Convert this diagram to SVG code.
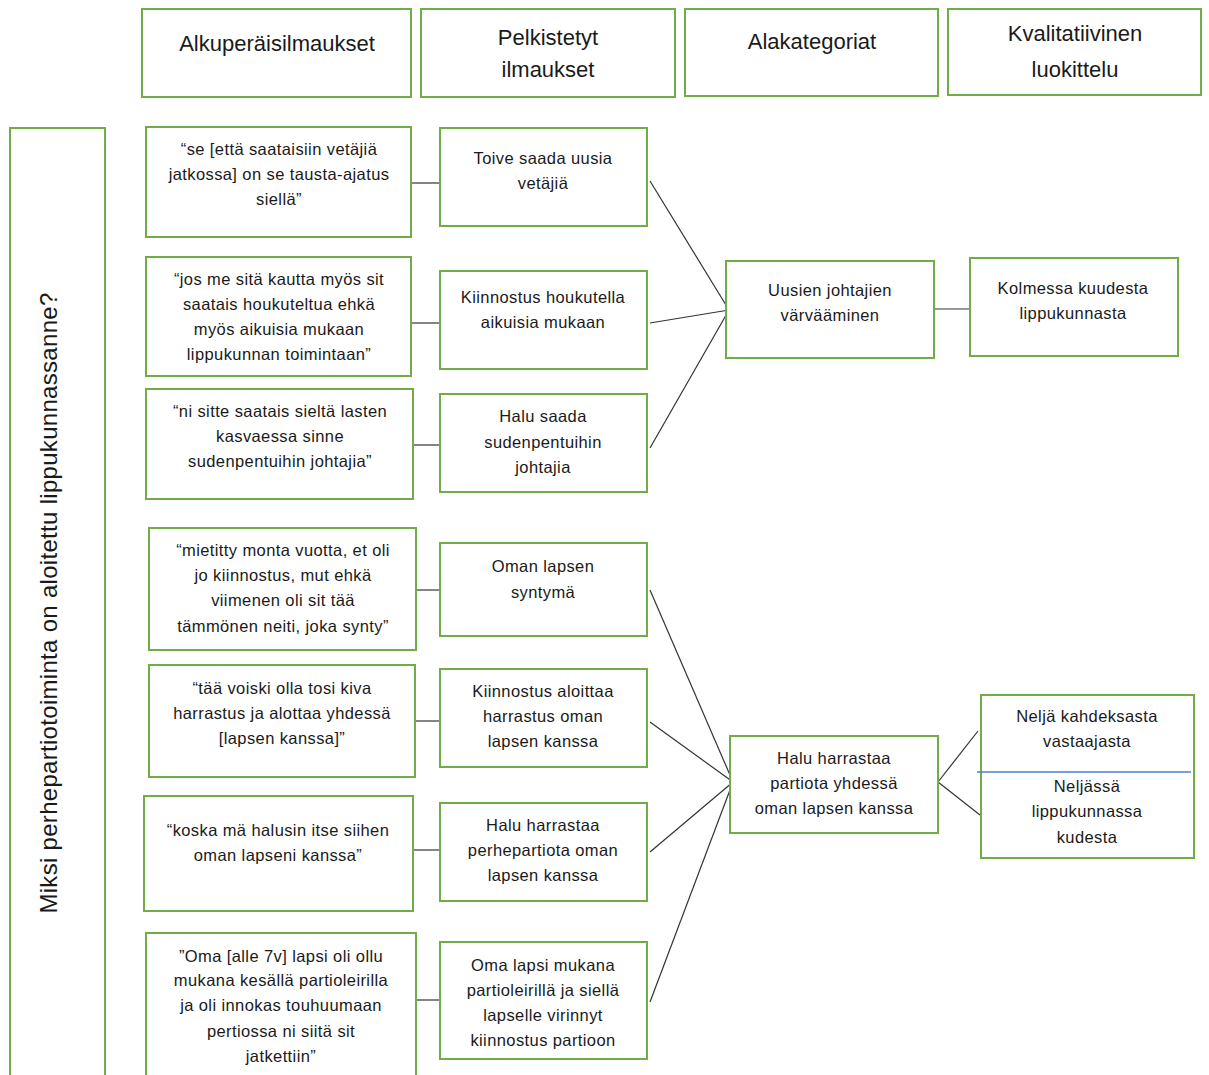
<svg xmlns="http://www.w3.org/2000/svg" width="1209" height="1075" viewBox="0 0 1209 1075">
<style>
.b{fill:#fff;stroke:#70AD47;stroke-width:2}
text{font-family:"Liberation Sans",Arial,sans-serif;fill:#1a1a1a;text-anchor:middle}
.h{font-size:22px}
.t{font-size:16.5px;letter-spacing:0.4px}
.c line{stroke:#333;stroke-width:1.2}
</style>
<rect width="1209" height="1075" fill="#fff"/>
<g id="h1"><rect class="b" x="142" y="9" width="269" height="88"/><text class="h" x="277" y="51">Alkuperäisilmaukset</text></g>
<g id="h2"><rect class="b" x="421" y="9" width="254" height="88"/><text class="h" x="548" y="45">Pelkistetyt</text><text class="h" x="548" y="77">ilmaukset</text></g>
<g id="h3"><rect class="b" x="685" y="9" width="253" height="87"/><text class="h" x="812" y="49">Alakategoriat</text></g>
<g id="h4"><rect class="b" x="948" y="9" width="253" height="86"/><text class="h" x="1075" y="41">Kvalitatiivinen</text><text class="h" x="1075" y="77">luokittelu</text></g>
<g id="question"><rect class="b" x="10" y="128" width="95" height="960"/><text x="0" y="0" font-size="24" letter-spacing="0.3" transform="translate(57,603) rotate(-90)">Miksi perhepartiotoiminta on aloitettu lippukunnassanne?</text></g>
<g class="c" id="connectors">
<line x1="411" y1="183" x2="440" y2="183"/>
<line x1="411" y1="323" x2="440" y2="323"/>
<line x1="413" y1="445" x2="440" y2="445"/>
<line x1="416" y1="590" x2="440" y2="590"/>
<line x1="415" y1="721" x2="440" y2="721"/>
<line x1="413" y1="850" x2="440" y2="850"/>
<line x1="416" y1="1000" x2="440" y2="1000"/>
<line x1="650" y1="181" x2="729" y2="310"/>
<line x1="650" y1="323" x2="729" y2="310"/>
<line x1="650" y1="448" x2="729" y2="310"/>
<line x1="934" y1="309" x2="970" y2="309"/>
<line x1="650" y1="590" x2="733" y2="782"/>
<line x1="650" y1="722" x2="733" y2="782"/>
<line x1="650" y1="852" x2="733" y2="782"/>
<line x1="650" y1="1002" x2="733" y2="782"/>
<line x1="938" y1="782" x2="978" y2="731"/>
<line x1="938" y1="782" x2="980" y2="815"/>
</g>
<g id="q1"><rect class="b" x="146" y="127" width="265" height="110"/><text class="t" x="279" y="155">“se [että saataisiin vetäjiä</text><text class="t" x="279" y="180">jatkossa] on se tausta-ajatus</text><text class="t" x="279" y="205">siellä”</text></g>
<g id="q2"><rect class="b" x="146" y="257" width="265" height="119"/><text class="t" x="279" y="285">“jos me sitä kautta myös sit</text><text class="t" x="279" y="310">saatais houkuteltua ehkä</text><text class="t" x="279" y="335">myös aikuisia mukaan</text><text class="t" x="279" y="360">lippukunnan toimintaan”</text></g>
<g id="q3"><rect class="b" x="146" y="389" width="267" height="110"/><text class="t" x="280" y="417">“ni sitte saatais sieltä lasten</text><text class="t" x="280" y="442">kasvaessa sinne</text><text class="t" x="280" y="467">sudenpentuihin johtajia”</text></g>
<g id="q4"><rect class="b" x="149" y="528" width="267" height="122"/><text class="t" x="283" y="556">“mietitty monta vuotta, et oli</text><text class="t" x="283" y="581">jo kiinnostus, mut ehkä</text><text class="t" x="283" y="606">viimenen oli sit tää</text><text class="t" x="283" y="632">tämmönen neiti, joka synty”</text></g>
<g id="q5"><rect class="b" x="149" y="665" width="266" height="112"/><text class="t" x="282" y="694">“tää voiski olla tosi kiva</text><text class="t" x="282" y="719">harrastus ja alottaa yhdessä</text><text class="t" x="282" y="744">[lapsen kanssa]”</text></g>
<g id="q6"><rect class="b" x="144" y="796" width="269" height="115"/><text class="t" x="278" y="836">“koska mä halusin itse siihen</text><text class="t" x="278" y="861">oman lapseni kanssa”</text></g>
<g id="q7"><rect class="b" x="146" y="933" width="270" height="160"/><text class="t" x="281" y="962">”Oma [alle 7v] lapsi oli ollu</text><text class="t" x="281" y="986">mukana kesällä partioleirilla</text><text class="t" x="281" y="1011">ja oli innokas touhuumaan</text><text class="t" x="281" y="1037">pertiossa ni siitä sit</text><text class="t" x="281" y="1062">jatkettiin”</text></g>
<g id="s1"><rect class="b" x="440" y="128" width="207" height="98"/><text class="t" x="543" y="164">Toive saada uusia</text><text class="t" x="543" y="189">vetäjiä</text></g>
<g id="s2"><rect class="b" x="440" y="271" width="207" height="98"/><text class="t" x="543" y="303">Kiinnostus houkutella</text><text class="t" x="543" y="328">aikuisia mukaan</text></g>
<g id="s3"><rect class="b" x="440" y="394" width="207" height="98"/><text class="t" x="543" y="422">Halu saada</text><text class="t" x="543" y="448">sudenpentuihin</text><text class="t" x="543" y="473">johtajia</text></g>
<g id="s4"><rect class="b" x="440" y="543" width="207" height="93"/><text class="t" x="543" y="572">Oman lapsen</text><text class="t" x="543" y="598">syntymä</text></g>
<g id="s5"><rect class="b" x="440" y="669" width="207" height="98"/><text class="t" x="543" y="697">Kiinnostus aloittaa</text><text class="t" x="543" y="722">harrastus oman</text><text class="t" x="543" y="747">lapsen kanssa</text></g>
<g id="s6"><rect class="b" x="440" y="803" width="207" height="98"/><text class="t" x="543" y="831">Halu harrastaa</text><text class="t" x="543" y="856">perhepartiota oman</text><text class="t" x="543" y="881">lapsen kanssa</text></g>
<g id="s7"><rect class="b" x="440" y="942" width="207" height="117"/><text class="t" x="543" y="971">Oma lapsi mukana</text><text class="t" x="543" y="996">partioleirillä ja siellä</text><text class="t" x="543" y="1021">lapselle virinnyt</text><text class="t" x="543" y="1046">kiinnostus partioon</text></g>
<g id="c1"><rect class="b" x="726" y="261" width="208" height="97"/><text class="t" x="830" y="296">Uusien johtajien</text><text class="t" x="830" y="321">värvääminen</text></g>
<g id="c2"><rect class="b" x="730" y="736" width="208" height="97"/><text class="t" x="834" y="764">Halu harrastaa</text><text class="t" x="834" y="789">partiota yhdessä</text><text class="t" x="834" y="814">oman lapsen kanssa</text></g>
<g id="k1"><rect class="b" x="970" y="258" width="208" height="98"/><text class="t" x="1073" y="294">Kolmessa kuudesta</text><text class="t" x="1073" y="319">lippukunnasta</text></g>
<g id="k2"><rect class="b" x="981" y="695" width="213" height="163"/><line x1="977" y1="772" x2="1191" y2="772" stroke="#4F7FD0" stroke-width="1.3"/><text class="t" x="1087" y="722">Neljä kahdeksasta</text><text class="t" x="1087" y="747">vastaajasta</text><text class="t" x="1087" y="792">Neljässä</text><text class="t" x="1087" y="817">lippukunnassa</text><text class="t" x="1087" y="843">kudesta</text></g>
</svg>
